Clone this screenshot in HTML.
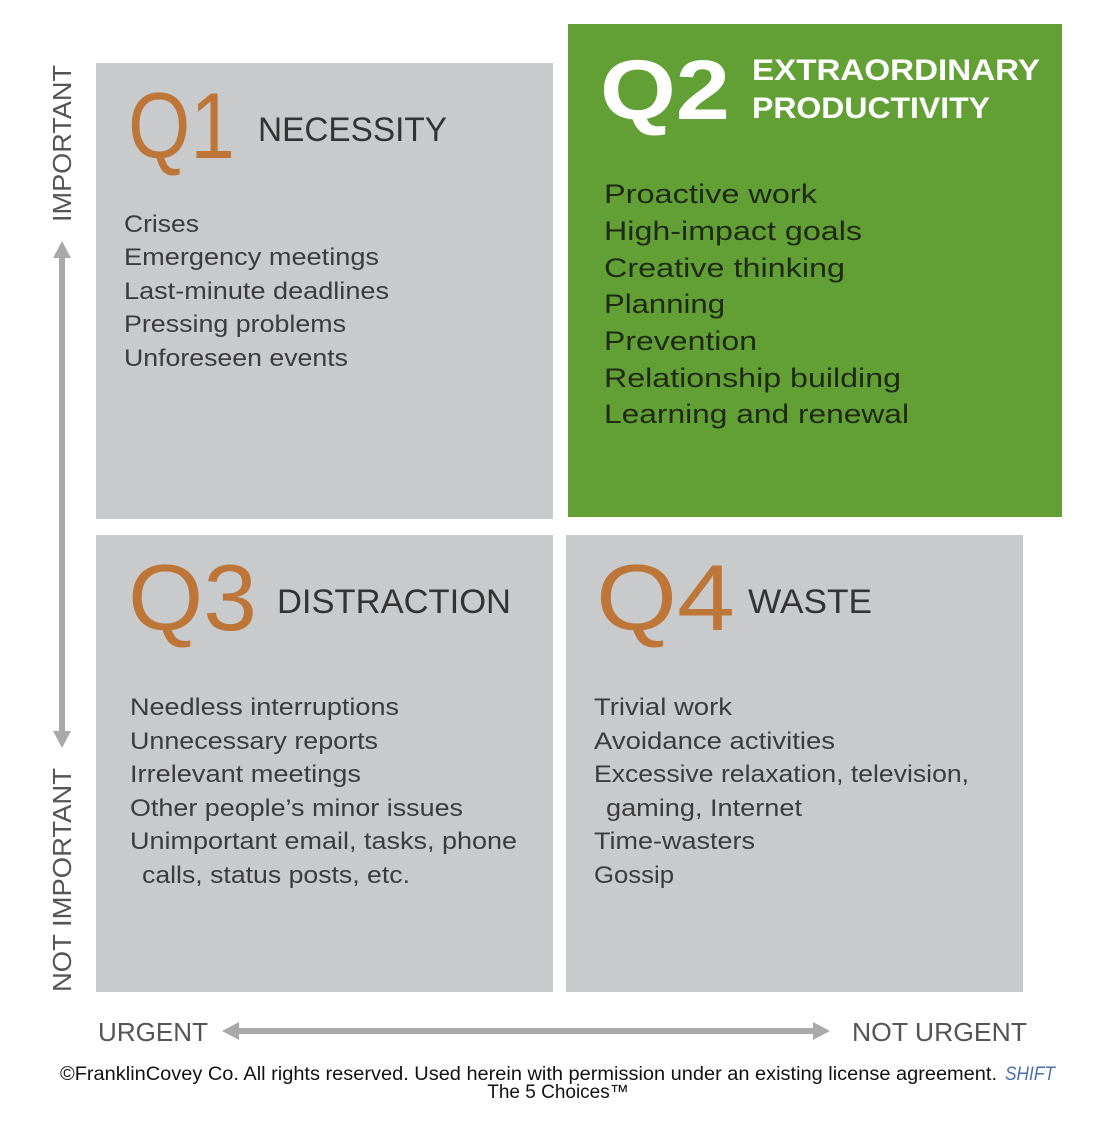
<!DOCTYPE html>
<html><head><meta charset="utf-8"><style>
html,body{margin:0;padding:0;background:#fff;width:1107px;height:1125px;overflow:hidden}
svg{display:block}
text{font-family:"Liberation Sans",sans-serif}
</style></head><body>
<svg width="1107" height="1125" viewBox="0 0 1107 1125">
<rect x="96" y="63" width="457" height="456" fill="#c9cacc"/>
<rect x="568" y="24" width="494" height="493" fill="#62a035"/>
<rect x="96" y="535" width="457" height="457" fill="#c9cacc"/>
<rect x="566" y="535" width="457" height="457" fill="#c9cacc"/>

<g fill="#bd7638" font-size="94">
<text x="128" y="158" textLength="107" lengthAdjust="spacingAndGlyphs">Q1</text>
<text x="128" y="630" textLength="129" lengthAdjust="spacingAndGlyphs">Q3</text>
<text x="596" y="630" textLength="139" lengthAdjust="spacingAndGlyphs">Q4</text>
</g>
<text x="600" y="119" fill="#fff" font-size="84" font-weight="bold" textLength="130" lengthAdjust="spacingAndGlyphs">Q2</text>

<g fill="#333" font-size="34">
<text x="258" y="141" textLength="189" lengthAdjust="spacingAndGlyphs">NECESSITY</text>
<text x="277" y="613" textLength="234" lengthAdjust="spacingAndGlyphs">DISTRACTION</text>
<text x="748" y="613" textLength="124" lengthAdjust="spacingAndGlyphs">WASTE</text>
</g>
<g fill="#fff" font-size="30" font-weight="bold">
<text x="752" y="80" textLength="288" lengthAdjust="spacingAndGlyphs">EXTRAORDINARY</text>
<text x="752" y="118" textLength="238" lengthAdjust="spacingAndGlyphs">PRODUCTIVITY</text>
</g>

<g fill="#3c3c3c" font-size="24">
<text x="124" y="232" textLength="75" lengthAdjust="spacingAndGlyphs">Crises</text>
<text x="124" y="265" textLength="255" lengthAdjust="spacingAndGlyphs">Emergency meetings</text>
<text x="124" y="299" textLength="265" lengthAdjust="spacingAndGlyphs">Last-minute deadlines</text>
<text x="124" y="332" textLength="222" lengthAdjust="spacingAndGlyphs">Pressing problems</text>
<text x="124" y="366" textLength="224" lengthAdjust="spacingAndGlyphs">Unforeseen events</text>
</g>
<g fill="#1f2a14" font-size="27">
<text x="604" y="203" textLength="213" lengthAdjust="spacingAndGlyphs">Proactive work</text>
<text x="604" y="240" textLength="258" lengthAdjust="spacingAndGlyphs">High-impact goals</text>
<text x="604" y="277" textLength="241" lengthAdjust="spacingAndGlyphs">Creative thinking</text>
<text x="604" y="313" textLength="121" lengthAdjust="spacingAndGlyphs">Planning</text>
<text x="604" y="350" textLength="153" lengthAdjust="spacingAndGlyphs">Prevention</text>
<text x="604" y="387" textLength="297" lengthAdjust="spacingAndGlyphs">Relationship building</text>
<text x="604" y="423" textLength="305" lengthAdjust="spacingAndGlyphs">Learning and renewal</text>
</g>
<g fill="#3c3c3c" font-size="24">
<text x="130" y="715" textLength="269" lengthAdjust="spacingAndGlyphs">Needless interruptions</text>
<text x="130" y="749" textLength="248" lengthAdjust="spacingAndGlyphs">Unnecessary reports</text>
<text x="130" y="782" textLength="231" lengthAdjust="spacingAndGlyphs">Irrelevant meetings</text>
<text x="130" y="816" textLength="333" lengthAdjust="spacingAndGlyphs">Other people’s minor issues</text>
<text x="130" y="849" textLength="387" lengthAdjust="spacingAndGlyphs">Unimportant email, tasks, phone</text>
<text x="142" y="883" textLength="268" lengthAdjust="spacingAndGlyphs">calls, status posts, etc.</text>
</g>
<g fill="#3c3c3c" font-size="24">
<text x="594" y="715" textLength="138" lengthAdjust="spacingAndGlyphs">Trivial work</text>
<text x="594" y="749" textLength="241" lengthAdjust="spacingAndGlyphs">Avoidance activities</text>
<text x="594" y="782" textLength="375" lengthAdjust="spacingAndGlyphs">Excessive relaxation, television,</text>
<text x="606" y="816" textLength="196" lengthAdjust="spacingAndGlyphs">gaming, Internet</text>
<text x="594" y="849" textLength="161" lengthAdjust="spacingAndGlyphs">Time-wasters</text>
<text x="594" y="883" textLength="80" lengthAdjust="spacingAndGlyphs">Gossip</text>
</g>

<g fill="#555" font-size="26">
<text transform="translate(71,222) rotate(-90)" textLength="157" lengthAdjust="spacingAndGlyphs">IMPORTANT</text>
<text transform="translate(71,992) rotate(-90)" textLength="224" lengthAdjust="spacingAndGlyphs">NOT IMPORTANT</text>
<text x="98" y="1041" textLength="110" lengthAdjust="spacingAndGlyphs">URGENT</text>
<text x="852" y="1041" textLength="175" lengthAdjust="spacingAndGlyphs">NOT URGENT</text>
</g>

<g fill="#a9a9a9">
<rect x="59" y="255" width="6" height="480"/>
<polygon points="62,241 53,258 71,258"/>
<polygon points="62,748 53,731 71,731"/>
</g>
<g fill="#a9a9a9">
<rect x="236" y="1028" width="580" height="6"/>
<polygon points="222,1031 239,1022 239,1040"/>
<polygon points="830,1031 813,1022 813,1040"/>
</g>

<text x="60" y="1080" font-size="19" fill="#111" textLength="937" lengthAdjust="spacingAndGlyphs">©FranklinCovey Co. All rights reserved. Used herein with permission under an existing license agreement.</text>
<text x="1005" y="1080" font-size="19" fill="#4a6fa8" font-style="italic" textLength="50" lengthAdjust="spacingAndGlyphs">SHIFT</text>
<text x="558" y="1098" font-size="19" fill="#111" text-anchor="middle">The 5 Choices™</text>
</svg>
</body></html>
